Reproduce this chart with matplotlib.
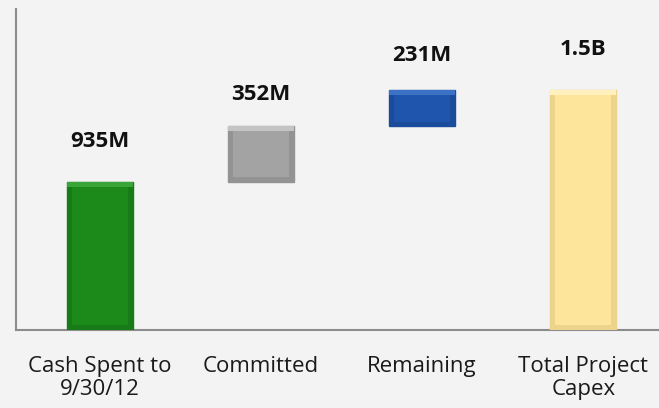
import matplotlib
matplotlib.use("Agg")
import matplotlib.pyplot as plt
import numpy as np

# Data (millions)
categories = ["Cash Spent to\n9/30/12", "Committed", "Remaining", "Total Project\nCapex"]
steps = [935, 352, 231]
value_labels = ["935M", "352M", "231M", "1.5B"]

total = sum(steps)
heights = steps + [total]
bottoms = list(np.cumsum([0] + steps[:-1])) + [0]

face_colors = ["#1b8a1b", "#a3a3a3", "#1f55ad", "#fde59b"]
bevel_colors = ["#177c17", "#939393", "#1b4c9c", "#ecd48c"]
top_colors = ["#3aa63a", "#c4c4c4", "#3b72c6", "#fff0bd"]
label_offsets = [29, 23, 25, 29]  # points from bar top to label centre

plt.rcParams['font.family'] = ['Open Sans', 'DejaVu Sans']

fig = plt.figure(figsize=(6.59, 4.08), dpi=100)
fig.patch.set_facecolor("#f3f3f3")
ax = fig.add_axes([16/659, (408-330)/408, (659-16)/659, 321/408])
ax.set_facecolor("#f3f3f3")

x = np.arange(len(categories))
w = 0.41
# outer bar (bevel sides), then top highlight, then inner face
ax.bar(x, heights, bottom=bottoms, width=w, color=bevel_colors,
       edgecolor=bevel_colors, linewidth=1, zorder=3)
tops = np.array(bottoms) + np.array(heights)
ax.bar(x, [30] * 4, bottom=tops - 30, width=w, color=top_colors, linewidth=0, zorder=4)
ax.bar(x, np.array(heights) - 60, bottom=np.array(bottoms) + 30, width=w - 0.06,
       color=face_colors, linewidth=0, zorder=5)

for i in range(len(x)):
    ax.annotate(value_labels[i], (x[i], tops[i]), xytext=(0, label_offsets[i]),
                textcoords="offset points", ha="center", va="center",
                fontsize=16, fontweight="bold", color="#111111")

ax.set_xlim(-0.52, 3.47)
ax.set_ylim(0, 2030)
ax.set_xticks(x)
ax.set_xticklabels(categories, fontsize=16, color="#1a1a1a", linespacing=1.12)
ax.tick_params(axis="x", length=0, pad=19)
ax.set_yticks([])
for s in ["top", "right"]:
    ax.spines[s].set_visible(False)
for s in ["left", "bottom"]:
    ax.spines[s].set_color("#8c8c8c")
    ax.spines[s].set_linewidth(1.5)

fig.savefig("out.png", dpi=100, facecolor=fig.get_facecolor())
